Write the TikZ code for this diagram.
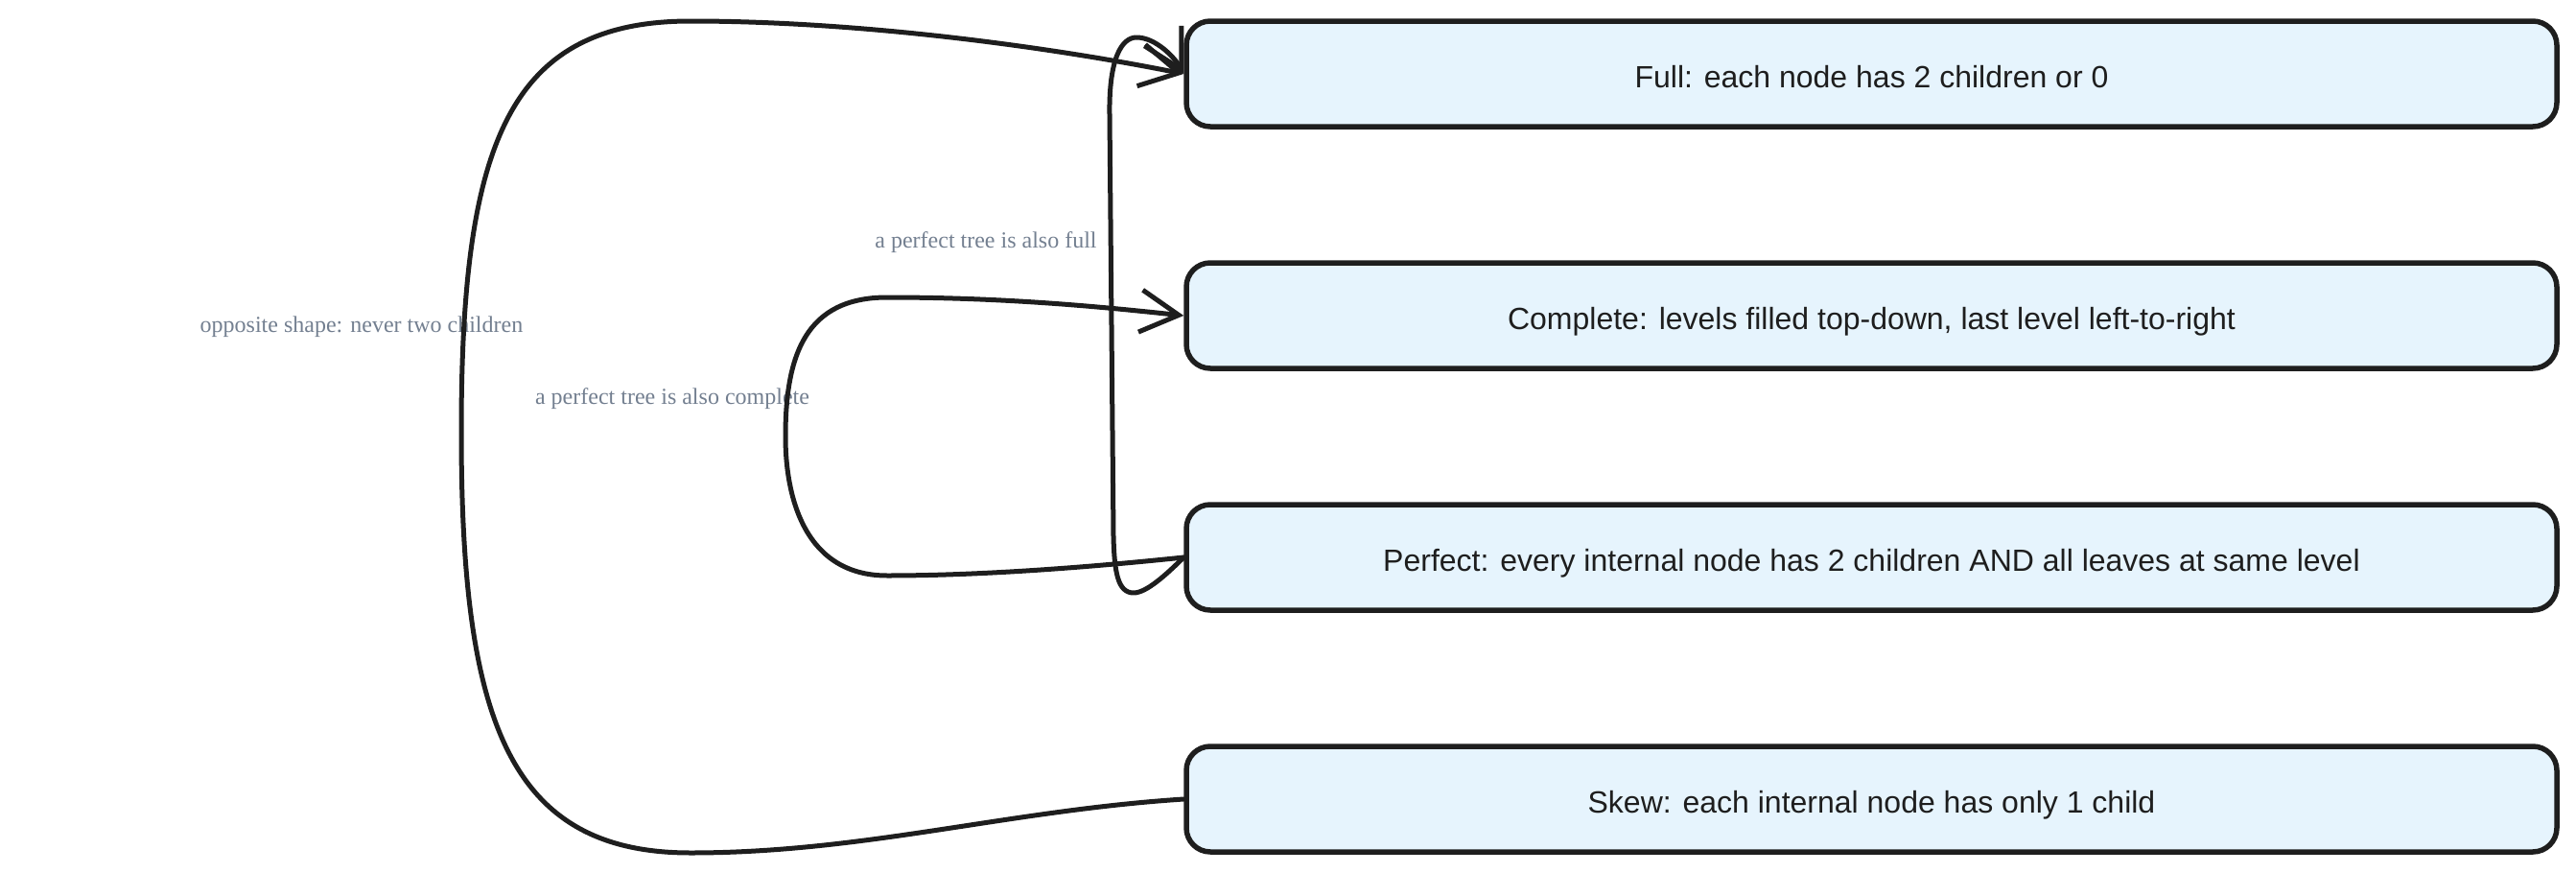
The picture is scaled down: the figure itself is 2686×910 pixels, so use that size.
\documentclass[tikz,border=0pt]{standalone}
\usepackage{fontspec}
\usetikzlibrary{arrows.meta}
\newfontfamily\boxfont{Liberation Sans}
\newfontfamily\labfont{Liberation Serif}
\definecolor{ink}{HTML}{1E1E1E}
\definecolor{boxfill}{HTML}{E6F4FD}
\definecolor{labgray}{HTML}{737F90}
\tikzset{
  kindbox/.style={draw=ink, fill=boxfill, line width=5.5pt, rounded corners=25pt,
    minimum width=1429pt, minimum height=110pt, inner sep=0pt,
    text height=31pt, text depth=3pt,
    font=\boxfont\fontsize{32}{38}\selectfont, text=ink},
  edgelabel/.style={font=\labfont\fontsize{24}{28}\selectfont, text=labgray, inner sep=0pt},
  link/.style={draw=ink, line width=5pt, line cap=round, line join=round},
  linkarrow/.style={link, -{Straight Barb[length=40pt,width=44pt]}}
}
\begin{document}
\begin{tikzpicture}[x=1pt,y=-1pt]
\useasboundingbox (0,0) rectangle (2686,910);
\node[kindbox] (full) at (1951.5,77) {Full: each node has 2 children or 0};
\node[kindbox] (complete) at (1951.5,329) {Complete: levels filled top-down, last level left-to-right};
\node[kindbox] (perfect) at (1951.5,581) {Perfect: every internal node has 2 children AND all leaves at same level};
\node[kindbox] (skew) at (1951.5,833) {Skew: each internal node has only 1 child};

\node[edgelabel] (lab1) at (377,341) {opposite shape: never two children};
\node[edgelabel] (lab2) at (701,416) {a perfect tree is also complete};
\node[edgelabel] (lab3) at (1028,253) {a perfect tree is also full};

% Skew -> Full
\draw[linkarrow] (skew.west) .. controls (1050,845) and (900,889) .. (720,889)
  .. controls (530,889) and (481,750) .. (481,450)
  .. controls (481,150) and (530,22) .. (720,22)
  .. controls (900,22) and (1100,50) .. (full.west);
% Perfect -> Complete
\draw[linkarrow] (perfect.west) .. controls (1100,595) and (1000,600) .. (925,600)
  .. controls (840,600) and (819,520) .. (819,455)
  .. controls (819,370) and (840,310) .. (925,310)
  .. controls (1050,310) and (1150,320) .. (complete.west);
% Perfect -> Full
\draw[linkarrow] (perfect.west) .. controls (1215,600) and (1195,618) .. (1182,618)
  .. controls (1165,618) and (1162,595) .. (1161,560)
  -- (1157,120)
  .. controls (1156,60) and (1170,39) .. (1185,39)
  .. controls (1205,39) and (1225,60) .. (full.west);
\end{tikzpicture}
\end{document}
